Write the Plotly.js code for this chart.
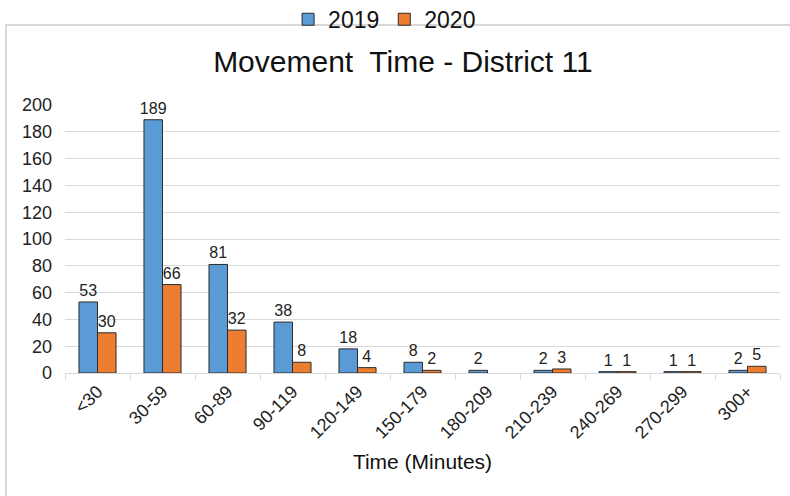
<!DOCTYPE html>
<html>
<head>
<meta charset="utf-8">
<script src="https://cdn.plot.ly/plotly-3.0.1.min.js"></script>
<style>html,body{margin:0;padding:0;background:#fff;}#chart{width:790px;height:496px;}</style>
</head>
<body>
<div id="chart"></div>
<script>
const categories = ["<30","30-59","60-89","90-119","120-149","150-179","180-209","210-239","240-269","270-299","300+"];
const values2019 = [53,189,81,38,18,8,2,2,1,1,2];
const values2020 = [30,66,32,8,4,2,null,3,1,1,5];
const yTicks = [0,20,40,60,80,100,120,140,160,180,200];

const font = "Liberation Sans, Arial, sans-serif";
const traces = [
  {type:"bar", name:"2019", x:categories, y:values2019,
   marker:{color:"#5B9BD5", line:{color:"#2b2b2b", width:1}},
   text:values2019.map(v=>v==null?"":String(v)), textposition:"outside", cliponaxis:false,
   constraintext:"none",
   textfont:{family:font, size:16, color:"#222"}},
  {type:"bar", name:"2020", x:categories, y:values2020,
   marker:{color:"#ED7D31", line:{color:"#2b2b2b", width:1}},
   text:values2020.map(v=>v==null?"":String(v)), textposition:"outside", cliponaxis:false,
   constraintext:"none",
   textfont:{family:font, size:16, color:"#222"}}
];
const layout = {
  width:790, height:496,
  margin:{l:65, r:10, t:105, b:123, autoexpand:false},
  paper_bgcolor:"#fff", plot_bgcolor:"#fff",
  font:{family:font, color:"#222"},
  barmode:"group", bargap:0.43, bargroupgap:0,
  title:{text:"Movement  Time - District 11", font:{family:font, size:30, color:"#111"},
         x:0.51, xanchor:"center", y:0.877, yanchor:"middle"},
  showlegend:true,
  legend:{orientation:"h", x:0.447, xanchor:"center", y:1.40, yanchor:"top",
          font:{family:font, size:23, color:"#111"}, itemwidth:30, tracegroupgap:0,
          bgcolor:"rgba(0,0,0,0)"},
  xaxis:{type:"category", tickangle:-45, tickfont:{family:font, size:18, color:"#222"},
         showgrid:false, showline:true, linecolor:"#d9d9d9", linewidth:1,
         ticks:"outside", tickson:"boundaries", ticklen:6, tickcolor:"#d9d9d9",
         title:{text:"Time (Minutes)", font:{family:font, size:21, color:"#111"}, standoff:12}},
  yaxis:{range:[0,200], tickvals:yTicks, ticktext:yTicks.map(String),
         tickfont:{family:font, size:18, color:"#222"},
         showgrid:true, gridcolor:"#d9d9d9", gridwidth:1, zeroline:false,
         showline:false, ticks:"", ticklabelstandoff:12},
  shapes:[{type:"rect", xref:"paper", yref:"paper",
           x0:(6-65)/715, x1:1.05, y0:-0.6, y1:1+(105-25)/268,
           line:{color:"#d9d9d9", width:2}, fillcolor:"rgba(0,0,0,0)", layer:"below"}]
};
Plotly.newPlot("chart", traces, layout, {displayModeBar:false, staticPlot:true});
</script>
</body>
</html>
